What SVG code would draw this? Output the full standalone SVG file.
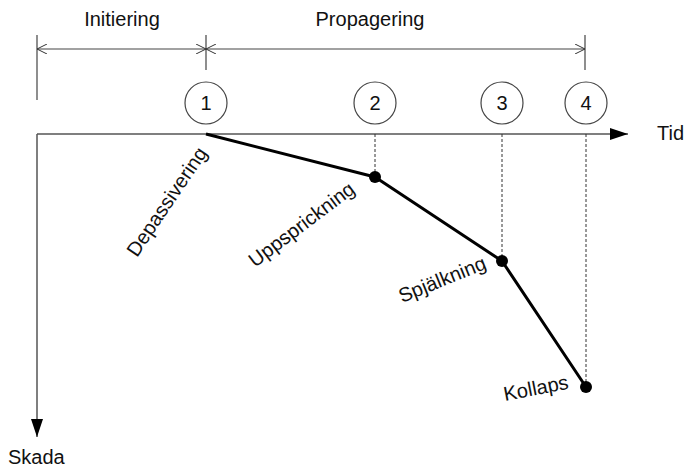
<svg xmlns="http://www.w3.org/2000/svg" width="685" height="468" viewBox="0 0 685 468">
<defs>
<marker id="open" viewBox="0 0 10 10" refX="10" refY="5" markerWidth="10" markerHeight="10" markerUnits="userSpaceOnUse" orient="auto-start-reverse">
<path d="M0,0 L10,5 L0,10" fill="none" stroke="#333" stroke-width="1"/>
</marker>
<marker id="solid" viewBox="0 0 18 12" refX="18" refY="6" markerWidth="18" markerHeight="12" markerUnits="userSpaceOnUse" orient="auto">
<path d="M0,0 L18,6 L0,12 Z" fill="#000"/>
</marker>
</defs>
<style>
text{font-family:"Liberation Sans",Arial,sans-serif;font-size:20px;fill:#111}
.dim{stroke:#444;stroke-width:1.2;fill:none}
.axis{stroke:#555;stroke-width:1.5;fill:none}
.dash{stroke:#333;stroke-width:1;stroke-dasharray:3,2;fill:none}
.curve{stroke:#000;stroke-width:3;fill:none;stroke-linejoin:round}
.circ{fill:#fff;stroke:#444;stroke-width:1.2}
.num{text-anchor:middle}
</style>
<g id="dimensions">
<line class="dim" x1="37" y1="35" x2="37" y2="100"/>
<line class="dim" x1="206" y1="35" x2="206" y2="70"/>
<line class="dim" x1="585" y1="35" x2="585" y2="70"/>
<line class="dim" x1="37" y1="49" x2="206" y2="49" marker-start="url(#open)" marker-end="url(#open)"/>
<line class="dim" x1="206" y1="49" x2="585" y2="49" marker-start="url(#open)" marker-end="url(#open)"/>
<text x="122" y="26" text-anchor="middle">Initiering</text>
<text x="370" y="26" text-anchor="middle">Propagering</text>
</g>
<g id="axes">
<line class="axis" x1="37" y1="134" x2="628" y2="134" marker-end="url(#solid)"/>
<line class="axis" x1="37" y1="134" x2="37" y2="437" marker-end="url(#solid)"/>
<text x="657" y="140">Tid</text>
<text x="8" y="464">Skada</text>
</g>
<g id="connectors">
<line class="dash" x1="375" y1="134" x2="375" y2="177"/>
<line class="dash" x1="502" y1="134" x2="502" y2="261"/>
<line class="dash" x1="586" y1="134" x2="586" y2="387"/>
<polyline class="curve" points="206,134 375,177 502,261 586,387"/>
</g>
<g id="n1"><circle class="circ" cx="206" cy="103" r="21"/><text class="num" x="206" y="110">1</text></g>
<g id="n2"><circle class="circ" cx="375" cy="103" r="21"/><text class="num" x="375" y="110">2</text></g>
<g id="n3"><circle class="circ" cx="502" cy="103" r="21"/><text class="num" x="502" y="110">3</text></g>
<g id="n4"><circle class="circ" cx="586" cy="103" r="21"/><text class="num" x="586" y="110">4</text></g>
<g id="p2"><circle cx="375" cy="177" r="6" fill="#000"/></g>
<g id="p3"><circle cx="502" cy="261" r="6" fill="#000"/></g>
<g id="p4"><circle cx="586" cy="387" r="6" fill="#000"/></g>
<g id="labels">
<text transform="translate(137,258) rotate(-56)">Depassivering</text>
<text transform="translate(255,268) rotate(-37)">Uppsprickning</text>
<text transform="translate(402,303) rotate(-22)">Spjälkning</text>
<text transform="translate(505,401) rotate(-11)">Kollaps</text>
</g>
</svg>
